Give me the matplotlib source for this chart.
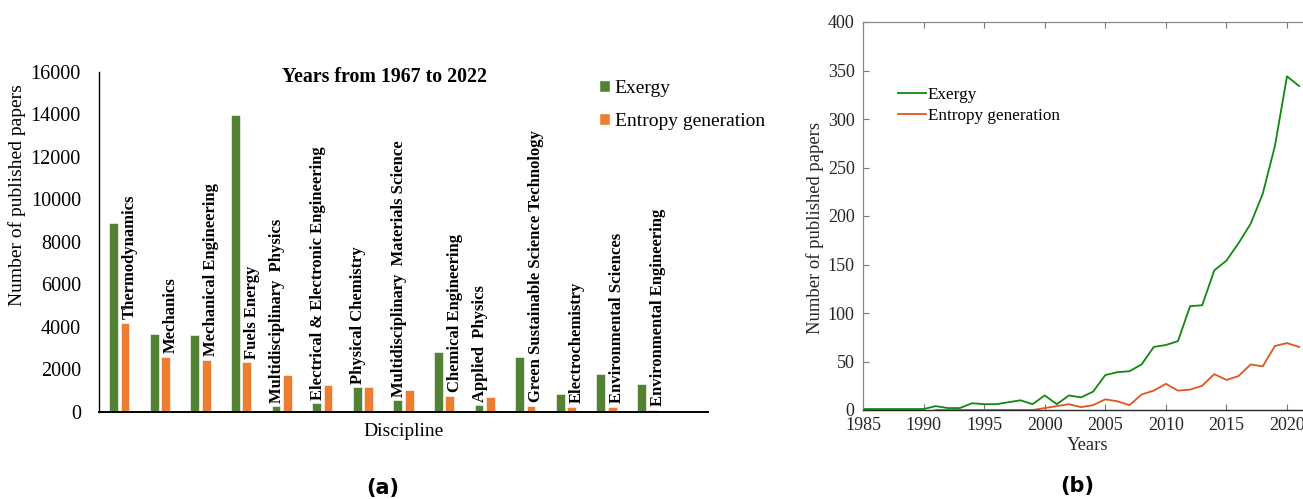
import matplotlib
matplotlib.use("Agg")
import matplotlib.pyplot as plt
import numpy as np
from matplotlib.patches import Patch

plt.rcParams['font.family'] = ['Liberation Serif', 'DejaVu Serif']

# ---------------- data (a) ----------------
disciplines = ["Thermodynamics", "Mechanics", "Mechanical Engineering", "Fuels Energy",
               "Multidisciplinary  Physics", "Electrical & Electronic Engineering",
               "Physical Chemistry", "Multidisciplinary  Materials Science",
               "Chemical Engineering", "Applied  Physics",
               "Green Sustainable Science Technology", "Electrochemistry",
               "Environmental Sciences", "Environmental Engineering"]
exergy_disc = [8870, 3650, 3620, 13970, 270, 390, 1150, 550, 2800, 310, 2560, 850, 1770, 1320]
entropy_disc = [4200, 2590, 2430, 2320, 1730, 1260, 1180, 1020, 750, 710, 270, 235, 235, 80]

# ---------------- data (b) ----------------
years_ex = list(range(1985, 2022))
exergy_year = [1, 1, 1, 1, 1, 1, 4, 2, 2, 7, 6, 6, 8, 10, 6, 15, 6, 15, 13, 19,
               36, 39, 40, 47, 65, 67, 71, 107, 108, 144, 154, 172, 192, 223, 272, 344, 334]
years_en = list(range(1991, 2022))
entropy_year = [0, 0, 0, 0, 0, 0, 0, 0, 0, 2, 4, 6, 3, 5, 11, 9, 5, 16, 20, 27,
                20, 21, 25, 37, 31, 35, 47, 45, 66, 69, 65]

W, H = 1303, 499
fig = plt.figure(figsize=(W / 100, H / 100), dpi=100)

def fx(px):
    return px / W

def fy(py):
    return 1 - py / H

# ---------------- panel (a) ----------------
green_bar = '#548235'
orange_bar = '#ED7D31'
a_left, a_right, a_bot, a_top = 99, 708, 411.7, 72
axa = fig.add_axes([fx(a_left), fy(a_bot), fx(a_right - a_left), (a_bot - a_top) / H])
x = np.arange(len(disciplines))
bw = 0.22
off = 0.14
axa.bar(x - off, exergy_disc, bw, color=green_bar, edgecolor='white', linewidth=0.4)
axa.bar(x + off, entropy_disc, bw, color=orange_bar, edgecolor='white', linewidth=0.4)
axa.set_xlim(-0.5, len(disciplines) + 0.5)
axa.set_ylim(0, 16000)
axa.set_yticks(np.arange(0, 16001, 2000))
axa.set_xticks([])
axa.tick_params(axis='y', length=0, pad=13, labelsize=14.5)
for s in ['top', 'right']:
    axa.spines[s].set_visible(False)
axa.spines['left'].set_linewidth(1.0)
axa.spines['bottom'].set_linewidth(1.4)
for i, name in enumerate(disciplines):
    g, o = exergy_disc[i], entropy_disc[i]
    if g < o:
        xi = i - off + 0.03
        yi = g + 150
    else:
        xi = i + off + 0.12
        yi = o + 180
    axa.text(xi, yi, name, rotation=90, ha='center', va='bottom',
             fontsize=12, fontweight='bold')
axa.set_ylabel("Number of published papers", fontsize=14)
axa.yaxis.set_label_coords((26 - a_left) / (a_right - a_left), (a_bot - 195) / (a_bot - a_top))
axa.set_xlabel("Discipline", fontsize=14, labelpad=8)
fig.text(fx(384), fy(77), "Years from 1967 to 2022", ha='center', va='center',
         fontsize=14.3, fontweight='bold')
handles = [Patch(facecolor=green_bar, edgecolor='white'),
           Patch(facecolor=orange_bar, edgecolor='white')]
fig.legend(handles, ["Exergy", "Entropy generation"], loc='upper left',
           bbox_to_anchor=(fx(599), fy(80)), frameon=False, fontsize=14,
           handlelength=0.55, handleheight=0.55, handletextpad=0.25,
           labelspacing=0.8, borderpad=0, borderaxespad=0)
fig.text(fx(383), fy(488), "(a)", ha='center', va='center', fontsize=15,
         fontweight='bold', family='DejaVu Sans')

# ---------------- panel (b) ----------------
green_line = '#0f8a0f'
orange_line = '#e0561c'
px_per_year = (1287 - 863) / 35.0
right_px = 863 + 37 * px_per_year
b_left, b_bot, b_top = 863, 410, 22
axb = fig.add_axes([fx(b_left), fy(b_bot), fx(right_px - b_left), (b_bot - b_top) / H])
axb.plot(years_ex, exergy_year, color=green_line, lw=1.3, label="Exergy")
axb.plot(years_en, entropy_year, color=orange_line, lw=1.3, label="Entropy generation")
axb.set_xlim(1985, 2022)
axb.set_ylim(0, 400)
axb.set_xticks(range(1985, 2021, 5))
axb.set_yticks(range(0, 401, 50))
axb.tick_params(direction='in', length=4, width=0.8, colors='#777777',
                labelcolor='#262626', labelsize=13, top=True, right=False)
axb.tick_params(axis='x', pad=5)
axb.tick_params(axis='y', pad=6)
for s in ['top', 'left', 'right']:
    axb.spines[s].set_color('#888888')
    axb.spines[s].set_linewidth(0.9)
axb.spines['bottom'].set_color('#262626')
axb.spines['bottom'].set_linewidth(1.0)
axb.spines['right'].set_visible(False)
axb.set_xlabel("Years", fontsize=13.4, labelpad=2, color='#262626')
axb.set_ylabel("Number of published papers", fontsize=13.4, color='#262626')
axb.yaxis.set_label_coords((824 - b_left) / (right_px - b_left), (b_bot - 228) / (b_bot - b_top))
axb.legend(loc='upper left',
           bbox_to_anchor=((898 - b_left) / (right_px - b_left), (b_bot - 87) / (b_bot - b_top)),
           frameon=False, fontsize=12.3, handlelength=1.65, handletextpad=0.1,
           labelspacing=0.3, borderpad=0, borderaxespad=0)
fig.text(fx(1077), fy(486), "(b)", ha='center', va='center', fontsize=15,
         fontweight='bold', family='DejaVu Sans')

fig.savefig("out.png", dpi=100)
